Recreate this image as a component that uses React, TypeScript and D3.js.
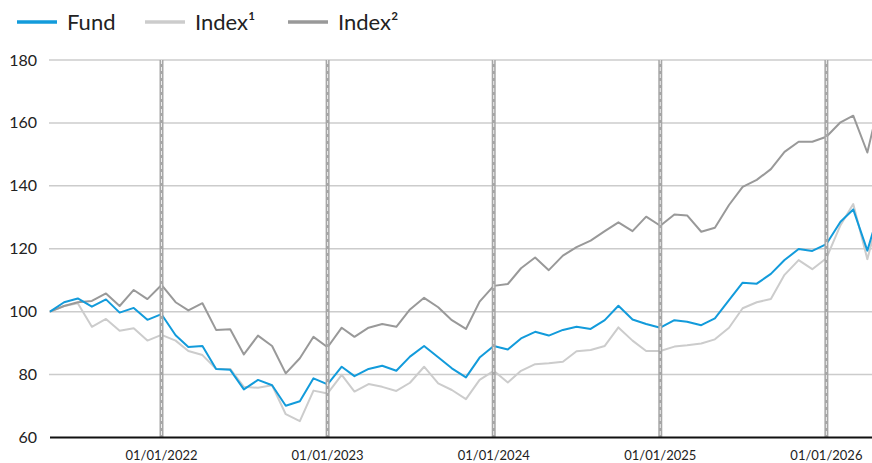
import React from "react";
import * as d3 from "d3";
import { useEffect, useRef } from "react";

// monthly points, first one May 2021, last one (clipped at the right edge) May 2026
const startMonth = new Date(2021, 4, 1);
const endMonth = new Date(2026, 4, 1);
const months = d3.timeMonth.range(startMonth, d3.timeMonth.offset(endMonth, 1));

const fund = [
  100, 103.0, 104.2, 101.6, 103.9, 99.7, 101.2, 97.4, 99.2, 92.5, 88.8,
  89.1, 81.8, 81.5, 75.3, 78.3, 76.6, 70.1, 71.5, 78.8, 76.9,
  82.5, 79.5, 81.8, 82.8, 81.2, 85.7, 89.1, 85.5, 82.0, 79.1, 85.4, 89.1,
  88.0, 91.5, 93.6, 92.4, 94.2, 95.2, 94.5, 97.3, 101.9, 97.5, 96.1, 94.9, 97.3,
  96.8, 95.7, 97.9, 103.7, 109.2, 108.9, 112.0, 116.4, 119.9, 119.3, 121.5, 128.6, 132.5, 119.4, 134.0,
];
const index1 = [
  100, 101.8, 102.7, 95.2, 97.7, 93.9, 94.7, 90.8, 92.6, 90.8, 87.5,
  86.2, 81.8, 81.8, 76.1, 75.8, 76.6, 67.4, 65.2, 74.9, 74.0,
  79.9, 74.6, 77.0, 76.1, 74.8, 77.4, 82.5, 77.2, 75.1, 72.2, 78.3, 81.2,
  77.5, 81.2, 83.3, 83.6, 84.1, 87.4, 87.8, 89.1, 95.0, 90.8, 87.5, 87.5, 88.9,
  89.3, 89.9, 91.2, 94.9, 101.1, 103.0, 104.0, 111.7, 116.4, 113.5, 117.0, 127.5, 134.2, 116.7, 133.0,
];
const index2 = [
  100, 101.8, 103.0, 103.4, 105.8, 101.8, 106.9, 104.0, 108.5, 103.0, 100.4,
  102.7, 94.2, 94.4, 86.4, 92.4, 89.1, 80.4, 85.2, 92.0, 88.7,
  94.9, 92.0, 94.9, 96.1, 95.2, 100.7, 104.4, 101.4, 97.3, 94.5, 103.2, 108.2,
  108.8, 113.8, 117.2, 113.2, 117.8, 120.5, 122.6, 125.6, 128.4, 125.6, 130.2, 127.3, 130.9,
  130.6, 125.4, 126.7, 133.9, 139.7, 141.9, 145.3, 150.8, 154.0, 154.0, 155.6, 160.2, 162.3, 150.6, 169.0,
];

const yTicks = [60, 80, 100, 120, 140, 160, 180];
const yearMarks = [2022, 2023, 2024, 2025, 2026].map((y) => new Date(y, 0, 1));

const seriesList = [
  { name: "Index¹", values: index1, color: "#cccccc" },
  { name: "Index²", values: index2, color: "#999999" },
  { name: "Fund", values: fund, color: "#129bdb" },
];
const legendItems = [
  { name: "Fund", color: "#129bdb", x: 17 },
  { name: "Index¹", color: "#cccccc", x: 145 },
  { name: "Index²", color: "#999999", x: 288 },
];

function App() {
  const width = 872;
  const height = 463;
  const left = 50;
  const svgRef = useRef(null);

  useEffect(() => {
    const svg = d3.select(svgRef.current);
    svg.selectAll("*").remove();

    const font = "Lato, 'Open Sans', sans-serif";

    const xScale = d3.scaleTime().domain([startMonth, endMonth]).range([left, 881]);
    const yScale = d3.scaleLinear().domain([60, 180]).range([437.5, 60]);

    // grid lines + y labels
    svg
      .selectAll(".grid")
      .data(yTicks.filter((t) => t > 60))
      .enter()
      .append("line")
      .attr("x1", left - 1)
      .attr("x2", width)
      .attr("y1", (d) => yScale(d))
      .attr("y2", (d) => yScale(d))
      .attr("stroke", "#cccccc")
      .attr("stroke-width", 1.5);

    svg
      .selectAll(".ylab")
      .data(yTicks)
      .enter()
      .append("text")
      .attr("x", 37)
      .attr("y", (d) => yScale(d) + 5.5)
      .attr("text-anchor", "end")
      .attr("font-family", font)
      .attr("font-size", 16)
      .attr("fill", "#222")
      .text((d) => d);

    // series
    const line = d3
      .line<number>()
      .x((_, i) => xScale(months[i]))
      .y((d) => yScale(d));

    seriesList.forEach((s) => {
      svg
        .append("path")
        .datum(s.values)
        .attr("d", line)
        .attr("fill", "none")
        .attr("stroke", s.color)
        .attr("stroke-width", 2)
        .attr("stroke-linejoin", "round");
    });

    // year markers
    const marks = svg.selectAll(".mark").data(yearMarks).enter().append("g");
    marks
      .append("line")
      .attr("x1", (d) => xScale(d))
      .attr("x2", (d) => xScale(d))
      .attr("y1", yScale(180))
      .attr("y2", yScale(60))
      .attr("stroke", "#a6a6a6")
      .attr("stroke-width", 4);
    marks
      .append("line")
      .attr("x1", (d) => xScale(d))
      .attr("x2", (d) => xScale(d))
      .attr("y1", yScale(180))
      .attr("y2", yScale(60))
      .attr("stroke", "#ffffff")
      .attr("stroke-width", 0.8)
      .attr("stroke-dasharray", "4,3");

    // x axis
    svg
      .append("line")
      .attr("x1", left)
      .attr("x2", width)
      .attr("y1", yScale(60))
      .attr("y2", yScale(60))
      .attr("stroke", "#111")
      .attr("stroke-width", 2);

    svg
      .selectAll(".xlab")
      .data(yearMarks)
      .enter()
      .append("text")
      .attr("x", (d) => xScale(d))
      .attr("y", 460)
      .attr("text-anchor", "middle")
      .attr("font-family", font)
      .attr("font-size", 13)
      .attr("fill", "#222")
      .text((d) => d3.timeFormat("%d/%m/%Y")(d));

    // legend
    const legend = svg.selectAll(".legend").data(legendItems).enter().append("g");
    legend
      .append("line")
      .attr("x1", (d) => d.x)
      .attr("x2", (d) => d.x + 40)
      .attr("y1", 22)
      .attr("y2", 22)
      .attr("stroke", (d) => d.color)
      .attr("stroke-width", 3.5);
    legend
      .append("text")
      .attr("x", (d) => d.x + 50)
      .attr("y", 29.5)
      .attr("font-family", font)
      .attr("font-size", 22)
      .attr("fill", "#222")
      .text((d) => d.name);
  }, []);

  return (
    <svg
      ref={svgRef}
      width={width}
      height={height}
      style={{ position: "absolute", left: 0, top: 0, background: "#fff" }}
    ></svg>
  );
}

export default App;
